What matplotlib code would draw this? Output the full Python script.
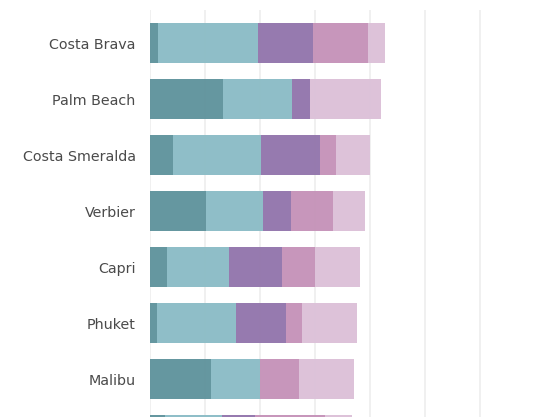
import numpy as np
import matplotlib
matplotlib.use("Agg")
import matplotlib.pyplot as plt

places = ['Costa Brava', 'Palm Beach', 'Costa Smeralda', 'Verbier',
          'Capri', 'Phuket', 'Malibu', '']
seg1 = [1.5, 13.4, 4.3, 10.3, 3.2, 1.4, 11.2, 2.8]
seg2 = [18.2, 12.5, 16.0, 10.4, 11.3, 14.4, 8.9, 10.4]
seg3 = [10.0, 3.3, 10.7, 5.1, 9.5, 9.1, 0.0, 6.0]
seg4 = [10.0, 0.0, 2.9, 7.5, 6.0, 2.9, 7.1, 12.7]
seg5 = [3.1, 12.9, 6.2, 5.8, 8.2, 10.0, 10.0, 4.9]
grid_ticks = [0, 10, 20, 30, 40, 50, 60]

colors = ['#5f939c', '#8bbcc6', '#9275ac', '#c592b8', '#dcc0d8']

W, H = 533, 417
fig = plt.figure(figsize=(W / 100, H / 100), dpi=100)
fig.patch.set_facecolor('white')

# axes runs past the bottom edge, the source image is cropped there
top_px, left_px = 10, 149.5
ylo, yhi = -0.59, 7.6
bot_px = top_px + (yhi - ylo) * 56
xmax = 61
right_px = left_px + xmax * 5.5
ax = fig.add_axes([left_px / W, (H - bot_px) / H,
                   (right_px - left_px) / W, (bot_px - top_px) / H])

y = np.arange(len(places))
left = np.zeros(len(places))
for vals, c in zip([seg1, seg2, seg3, seg4, seg5], colors):
    ax.barh(y, vals, left=left, height=0.71, color=c, alpha=0.96, zorder=2)
    left = left + np.array(vals)

ax.set_xlim(0, xmax)
ax.set_ylim(yhi, ylo)
ax.set_xticks(grid_ticks)
ax.xaxis.grid(True, color='#ededed', lw=1.2, zorder=0)
ax.set_yticks(y)
ax.set_yticklabels(places, fontsize=10.3, color='#4a4a4a', family='DejaVu Sans')
ax.tick_params(axis='y', length=0, pad=10)
ax.tick_params(axis='x', length=0, labelbottom=False)
for s in ax.spines.values():
    s.set_visible(False)

fig.savefig('out.png', dpi=100)
